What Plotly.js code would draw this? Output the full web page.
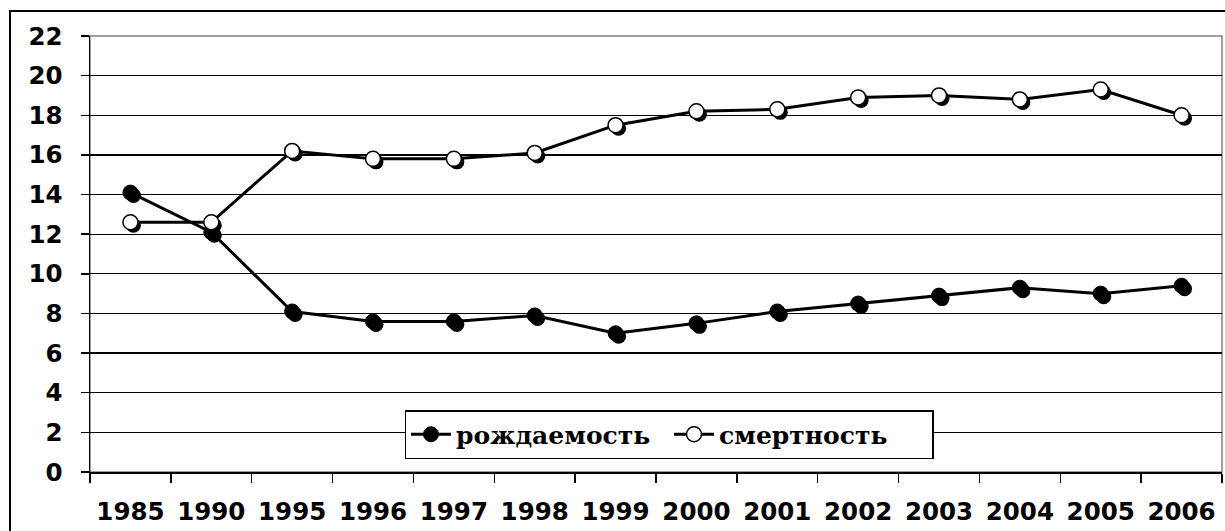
<!DOCTYPE html>
<html>
<head>
<meta charset="utf-8">
<script src="https://cdn.plot.ly/plotly-3.0.1.min.js"></script>
<style>html,body{margin:0;padding:0;background:#fff;}#chart{width:1225px;height:531px;}</style>
</head>
<body>
<div id="chart"></div>
<script>
const years = ['1985','1990','1995','1996','1997','1998','1999','2000','2001','2002','2003','2004','2005','2006'];
const birthRate = [14.1,12.1,8.1,7.6,7.6,7.9,7.0,7.5,8.1,8.5,8.9,9.3,9.0,9.4];
const deathRate = [12.6,12.6,16.2,15.8,15.8,16.1,17.5,18.2,18.3,18.9,19.0,18.8,19.3,18.0];
const seriesNames = ['рождаемость','смертность'];
const yTicks = [0,2,4,6,8,10,12,14,16,18,20,22];

// pixel geometry helpers
const W = 1225, H = 531, L = 90, T = 36;
const plotW = W - L;          // 1135
const plotH = 475 - T;        // 439
const dx = 3 / plotW, dy = 3 / plotH;   // shadow offset
const px = p => (p - L) / plotW;
const py = p => (475 - p) / plotH;

const catRange = [-0.5, years.length - 0.5];

const traces = [
  // base (invisible) on main axes to host grid
  {x: years, y: birthRate, xaxis: 'x', yaxis: 'y', mode: 'markers', opacity: 0, showlegend: false, hoverinfo: 'skip'},
  // marker shadows
  {x: years, y: birthRate, xaxis: 'x2', yaxis: 'y2', mode: 'markers', showlegend: false, hoverinfo: 'skip',
   marker: {size: 15, color: '#000'}},
  {x: years, y: deathRate, xaxis: 'x2', yaxis: 'y2', mode: 'markers', showlegend: false, hoverinfo: 'skip',
   marker: {size: 15, color: '#000'}},
  // real
  {x: years, y: birthRate, xaxis: 'x3', yaxis: 'y3', mode: 'lines+markers', name: seriesNames[0],
   line: {color: '#000', width: 3}, marker: {size: 15, color: '#000', line: {color: '#000', width: 1}}},
  {x: years, y: deathRate, xaxis: 'x3', yaxis: 'y3', mode: 'lines+markers', name: seriesNames[1],
   line: {color: '#000', width: 3}, marker: {size: 15, color: '#fff', line: {color: '#000', width: 1.5}}}
];

const tickFont = {family: 'DejaVu Sans', size: 24.5, color: '#000', weight: 'bold'};
const hiddenX = {type: 'category', categoryorder: 'array', categoryarray: years, range: catRange, visible: false, fixedrange: true};
const hiddenY = {range: [0, 22], visible: false, fixedrange: true};

const layout = {
  width: W, height: H, autosize: false,
  margin: {l: L, r: 0, t: T, b: H - 475, pad: 0},
  paper_bgcolor: '#fff', plot_bgcolor: 'rgba(0,0,0,0)',
  showlegend: true,
  xaxis: {
    type: 'category', categoryorder: 'array', categoryarray: years, range: catRange,
    domain: [0, 1 - dx], anchor: 'y',
    showgrid: false, showline: true, linecolor: '#000', linewidth: 1.5,
    ticks: 'outside', tickson: 'boundaries', ticklen: 9, tickwidth: 1.5, tickcolor: '#000',
    tickfont: tickFont, ticklabelstandoff: 17, zeroline: false, fixedrange: true
  },
  yaxis: {
    range: [0, 22], domain: [dy, 1], anchor: 'x',
    tickmode: 'array', tickvals: yTicks,
    showgrid: true, gridcolor: '#000', gridwidth: 1.2,
    showline: true, linecolor: '#000', linewidth: 1.5,
    ticks: 'outside', ticklen: 8, tickwidth: 1.5, tickcolor: '#000',
    tickfont: tickFont, ticklabelstandoff: 13, zeroline: false, fixedrange: true
  },
  xaxis2: Object.assign({}, hiddenX, {domain: [dx, 1], anchor: 'y2'}),
  yaxis2: Object.assign({}, hiddenY, {domain: [0, 1 - dy], anchor: 'x2'}),
  xaxis3: Object.assign({}, hiddenX, {domain: [0, 1 - dx], anchor: 'y3'}),
  yaxis3: Object.assign({}, hiddenY, {domain: [dy, 1], anchor: 'x3'}),
  legend: {
    orientation: 'h', x: px(669), xanchor: 'center', y: py(410), yanchor: 'top',
    bgcolor: '#fff', bordercolor: '#000', borderwidth: 1.5,
    font: {family: 'DejaVu Serif', size: 25, color: '#000', weight: 'bold'},
    itemsizing: 'trace', itemwidth: 40, entrywidth: 208, entrywidthmode: 'pixels'
  },
  shapes: [
    // plot area border (gray)
    {type: 'rect', xref: 'x domain', yref: 'y domain', x0: 0, x1: 1, y0: 0, y1: 1,
     line: {color: '#808080', width: 1.5}, layer: 'below'},
    // outer chart border
    {type: 'rect', xref: 'paper', yref: 'paper', x0: px(10), x1: px(1240), y0: py(545), y1: py(11),
     line: {color: '#000', width: 2}, layer: 'above'}
  ]
};

Plotly.newPlot('chart', traces, layout, {staticPlot: true, displayModeBar: false});
</script>
</body>
</html>
